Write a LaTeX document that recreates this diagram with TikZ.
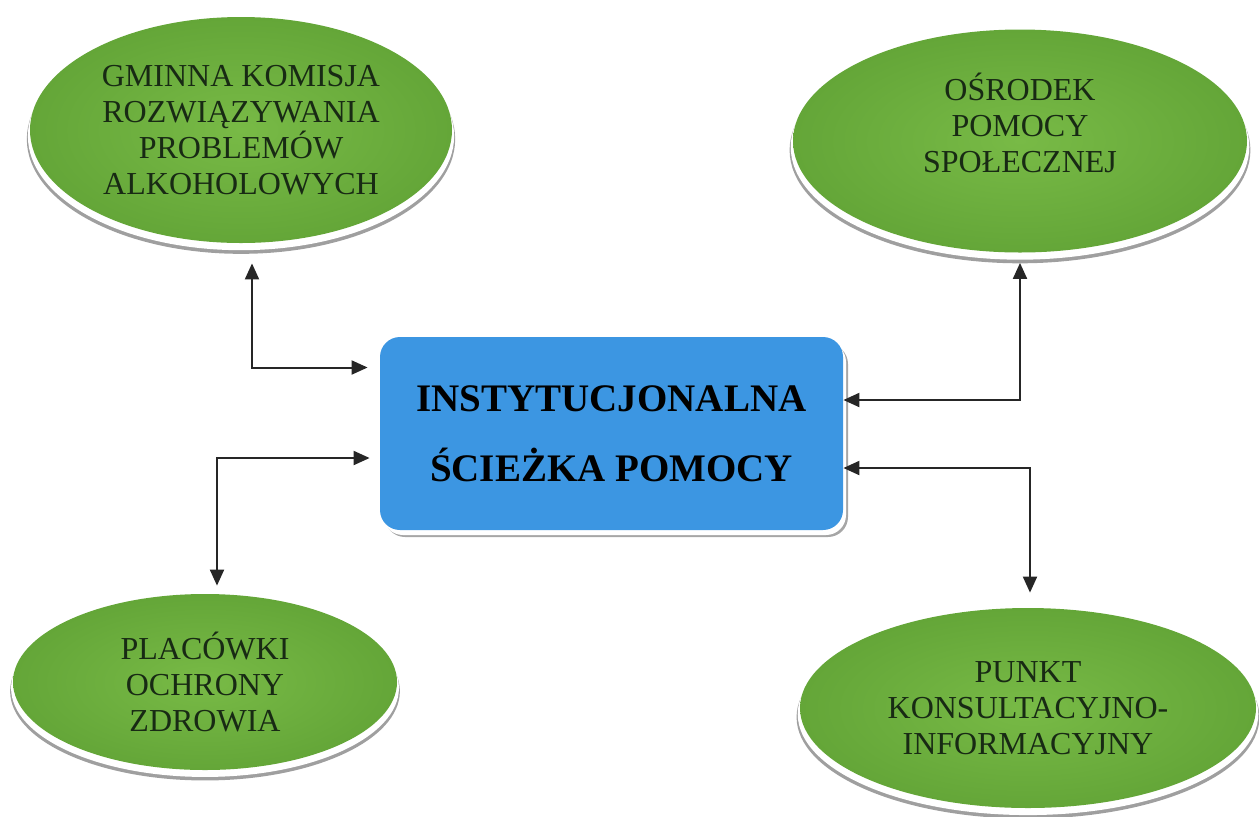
\documentclass[tikz,border=0pt]{standalone}
\usepackage{fontspec}
\setmainfont{Liberation Serif}
\usepackage{tikz}
\usetikzlibrary{shapes.geometric}
\usetikzlibrary{arrows.meta}
\usetikzlibrary{shadows}
\definecolor{leafdark}{RGB}{100,166,56}
\definecolor{leaflight}{RGB}{120,186,70}
\definecolor{sky}{RGB}{60,150,226}
\definecolor{inkgreen}{RGB}{24,42,20}

\begin{document}
\begin{tikzpicture}[x=0.5pt,y=-0.5pt,>={Triangle[length=8pt,width=7pt]},
    link/.style={<->,line width=1pt,color=black!85},
    bubble/.style={ellipse,inner sep=1pt,align=center,text=inkgreen,
      inner color=leaflight,outer color=leafdark,
      font=\fontsize{16}{18}\selectfont,
      general shadow={fill=gray!75,shadow scale=1.015,shadow yshift=-4.5pt},
      general shadow={fill=white,shadow scale=1.01,shadow yshift=-3pt}},
    hub/.style={rectangle,rounded corners=10pt,fill=sky,align=center,
      minimum width=231.5pt,minimum height=96.5pt,
      font=\fontsize{19.5}{35}\selectfont\bfseries,
      general shadow={fill=gray!70,shadow xshift=2.5pt,shadow yshift=-3.5pt},
      general shadow={fill=white,shadow xshift=1.5pt,shadow yshift=-2.5pt}}]
  \useasboundingbox (0,0) rectangle (1259,816);

  % centre
  \node[hub] (hub) at (611.5,433.5) {INSTYTUCJONALNA\\ŚCIEŻKA POMOCY};

  % institutions
  \node[bubble,minimum width=211pt,minimum height=113pt] (gkrpa) at (241,130)
    {GMINNA KOMISJA\\ROZWIĄZYWANIA\\PROBLEMÓW\\ALKOHOLOWYCH};
  \node[bubble,minimum width=227pt,minimum height=111.5pt] (osrodek) at (1020,141)
    {OŚRODEK\\POMOCY\\SPOŁECZNEJ\\~};
  \node[bubble,minimum width=192pt,minimum height=88pt] (placowki) at (205,682)
    {PLACÓWKI\\OCHRONY\\ZDROWIA};
  \node[bubble,minimum width=228pt,minimum height=100pt] (punkt) at (1028,708)
    {PUNKT\\KONSULTACYJNO-\\INFORMACYJNY};

  \draw[link,shorten <=10pt,shorten >=6pt] ([xshift=5.5pt]gkrpa.south) |- ([yshift=33pt]hub.west);
  \draw[link,shorten <=4pt,shorten >=5pt] ([xshift=6pt]placowki.north) |- ([yshift=-12.25pt]hub.west);
  \draw[link,shorten <=5pt] (osrodek.south) |- ([yshift=16.75pt]hub.east);
  \draw[link,shorten <=7.5pt] ([xshift=1pt]punkt.north) |- ([yshift=-17.25pt]hub.east);
\end{tikzpicture}
\end{document}
